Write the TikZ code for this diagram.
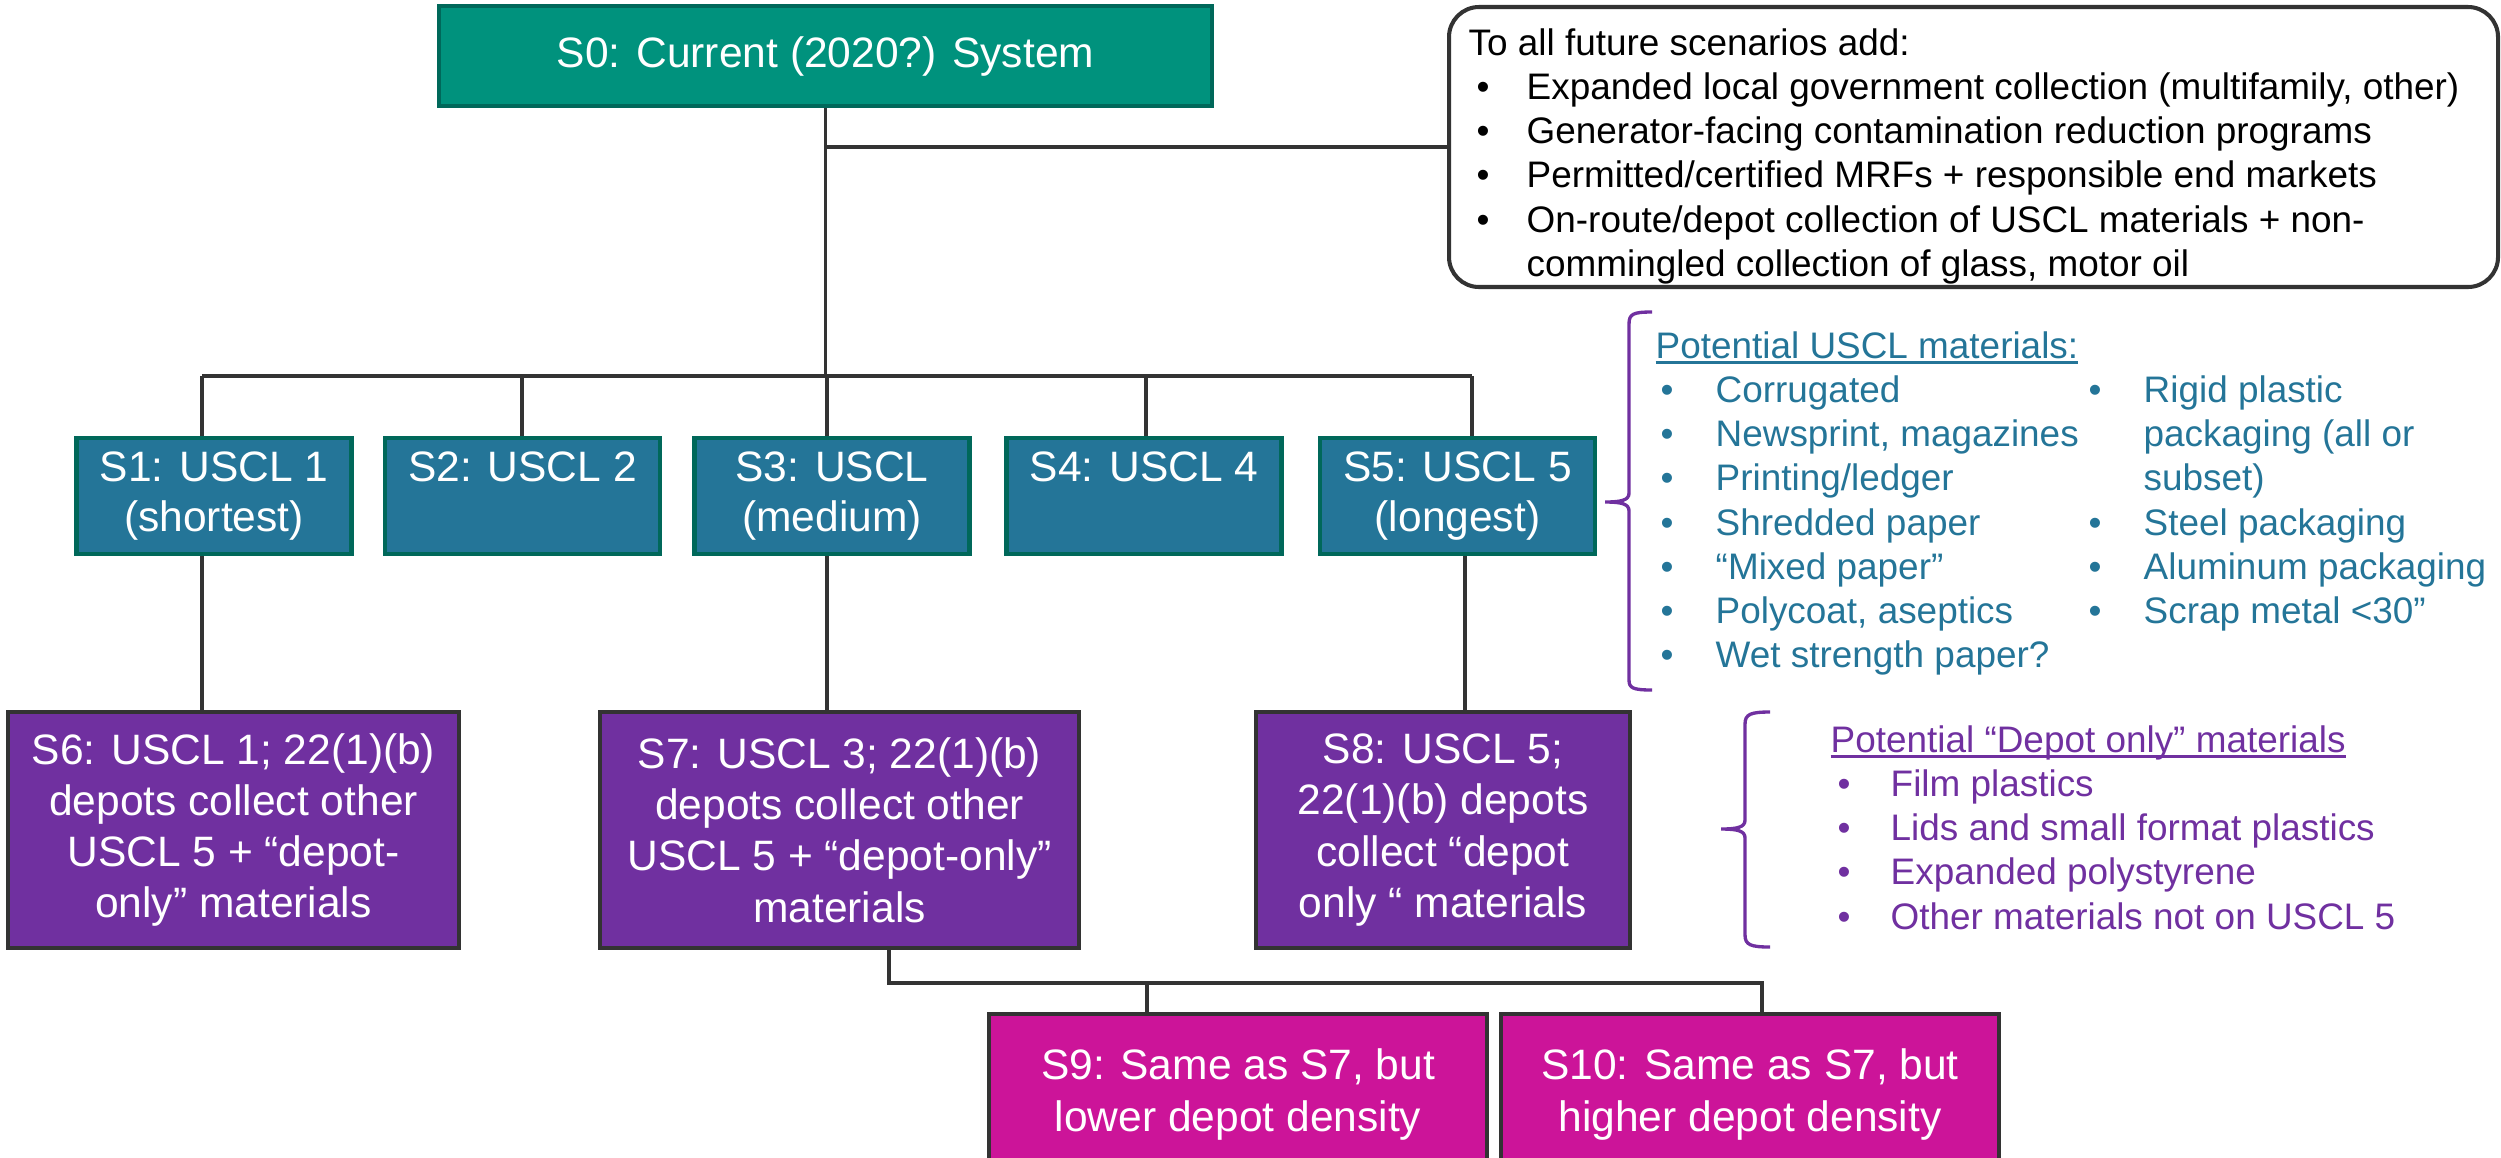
\documentclass[tikz,border=0pt]{standalone}
\usepackage{fontspec}
\setmainfont{Liberation Sans}
\usepackage{xcolor}
\usepackage{tikz}

\definecolor{sgreen}{RGB}{0,146,125}
\definecolor{sedge}{RGB}{0,104,90}
\definecolor{sblue}{RGB}{36,117,152}
\definecolor{spurple}{RGB}{112,48,160}
\definecolor{smagenta}{RGB}{204,20,153}
\definecolor{sline}{RGB}{51,51,51}

\newcommand{\ulinetext}[1]{\setbox0\hbox{#1}\rlap{\rule[-0.055cm]{\wd0}{0.022cm}}\box0}
\newcommand{\listfont}{\fontsize{10.5}{12.6}\selectfont}

\begin{document}
\begin{tikzpicture}[x=1cm,y=-1cm]
        \tikzstyle{topbox} = [draw=sedge, fill=sgreen, line width=1.4pt, minimum width=7.73cm, minimum height=1.00cm, inner sep=0pt, text=white, font={\fontsize{12.1}{14.6}\selectfont}]
        \tikzstyle{usclbox} = [draw=sedge, fill=sblue, line width=1.4pt, minimum width=2.75cm, minimum height=1.16cm, inner sep=0pt, text=white, align=center, font={\fontsize{12.1}{14.2}\selectfont}]
        \tikzstyle{depotbox} = [draw=sline, fill=spurple, line width=1.4pt, minimum height=2.36cm, inner sep=0pt, text=white, align=center, font={\fontsize{12.1}{14.6}\selectfont}]
        \tikzstyle{densitybox} = [draw=sline, fill=smagenta, line width=1.4pt, minimum width=4.98cm, minimum height=1.61cm, inner sep=0pt, text=white, align=center, font={\fontsize{12.1}{14.8}\selectfont}]
        \tikzstyle{wire} = [draw=sline, line width=1.1pt]
        \tikzstyle{bracket} = [draw=spurple, line width=0.95pt]
        \useasboundingbox (0,0) rectangle (25.01,11.57);

        % scenario boxes
        \node[topbox] (S0) at (8.255,0.56) {S0: Current (2020?) System};
        \node[usclbox] (S1) at (2.14,4.96) {S1: USCL 1\\(shortest)};
        \node[usclbox] (S2) at (5.225,4.96) {S2: USCL 2\\\vphantom{(}};
        \node[usclbox] (S3) at (8.32,4.96) {S3: USCL\\(medium)};
        \node[usclbox] (S4) at (11.44,4.96) {S4: USCL 4\\\vphantom{(}};
        \node[usclbox] (S5) at (14.575,4.96) {S5: USCL 5\\(longest)};
        \node[depotbox, minimum width=4.51cm] (S6) at (2.335,8.30) {S6: USCL 1; 22(1)(b)\\depots collect other\\USCL 5 + “depot-\\only” materials};
        \node[depotbox, minimum width=4.79cm] (S7) at (8.395,8.30) {S7: USCL 3; 22(1)(b)\\depots collect other\\USCL 5 + “depot-only”\\materials};
        \node[depotbox, minimum width=3.74cm] (S8) at (14.43,8.30) {S8: USCL 5;\\22(1)(b) depots\\collect “depot\\only “ materials};
        \node[densitybox] (S9) at (12.38,10.945) {S9: Same as S7, but\\lower depot density};
        \node[densitybox] (S10) at (17.50,10.945) {S10: Same as S7, but\\higher depot density};

        % note for all scenarios
        \node[draw=sline, line width=1.15pt, rounded corners=0.3cm, minimum width=10.49cm, minimum height=2.80cm] (note) at (19.735,1.47) {};
        \node[anchor=base west, inner sep=0pt, font=\listfont] (notetxt) at (14.68,0.55) {\begin{tabular}[t]{@{\hspace{0.08cm}}p{0.50cm}@{}l@{}}
            \multicolumn{2}{@{}l@{}}{To all future scenarios add:}\\
            \textbullet & Expanded local government collection (multifamily, other)\\
            \textbullet & Generator-facing contamination reduction programs\\
            \textbullet & Permitted/certified MRFs + responsible end markets\\
            \textbullet & On-route/depot collection of USCL materials + non-\\
                        & commingled collection of glass, motor oil
        \end{tabular}};

        % material lists
        \node[anchor=base west, inner sep=0pt, text=sblue, font=\listfont] (uscltxt) at (16.55,3.58) {\begin{tabular}[t]{@{\hspace{0.05cm}}p{0.55cm}@{}p{3.73cm}@{}p{0.55cm}@{}l@{}}
            \multicolumn{4}{@{}l@{}}{\ulinetext{Potential USCL materials:}}\\
            \textbullet & Corrugated & \textbullet & Rigid plastic\\
            \textbullet & Newsprint, magazines & & packaging (all or\\
            \textbullet & Printing/ledger & & subset)\\
            \textbullet & Shredded paper & \textbullet & Steel packaging\\
            \textbullet & “Mixed paper” & \textbullet & Aluminum packaging\\
            \textbullet & Polycoat, aseptics & \textbullet & Scrap metal <30”\\
            \textbullet & Wet strength paper? & &
        \end{tabular}};
        \node[anchor=base west, inner sep=0pt, text=spurple, font=\listfont] (depottxt) at (18.30,7.52) {\begin{tabular}[t]{@{\hspace{0.07cm}}p{0.53cm}@{}l@{}}
            \multicolumn{2}{@{}l@{}}{\ulinetext{Potential “Depot only” materials}}\\
            \textbullet & Film plastics\\
            \textbullet & Lids and small format plastics\\
            \textbullet & Expanded polystyrene\\
            \textbullet & Other materials not on USCL 5
        \end{tabular}};

        % braces
        \draw[bracket] (16.52,3.12) .. controls (16.33,3.12) and (16.29,3.14) .. (16.29,3.24) -- (16.29,4.93)
            .. controls (16.29,5.00) and (16.22,5.02) .. (16.05,5.02) .. controls (16.22,5.02) and (16.29,5.04) .. (16.29,5.11)
            -- (16.29,6.80) .. controls (16.29,6.88) and (16.33,6.90) .. (16.52,6.90);
        \draw[bracket] (17.70,7.12) .. controls (17.51,7.12) and (17.45,7.14) .. (17.45,7.24) -- (17.45,8.20)
            .. controls (17.45,8.27) and (17.38,8.29) .. (17.21,8.29) .. controls (17.38,8.29) and (17.45,8.31) .. (17.45,8.38)
            -- (17.45,9.35) .. controls (17.45,9.45) and (17.51,9.47) .. (17.70,9.47);

        % connectors
        \coordinate (busL) at (2.02,3.76);
        \coordinate (busR) at (14.72,3.76);
        \coordinate (fork) at (8.89,9.83);
        \draw[wire] (S0.south) -- (S0.south |- busL);
        \draw[wire] (S0.south |- note.west) -- (note.west);
        \draw[wire] (busL) -- (busR);
        \foreach \n/\x in {S1/2.02, S2/5.22, S3/8.27, S4/11.46, S5/14.72}
            \draw[wire] (busL -| \x,0) -- (\n.north -| \x,0);
        \foreach \from/\to/\x in {S1/S6/2.02, S3/S7/8.27, S5/S8/14.65}
            \draw[wire] (\from.south -| \x,0) -- (\to.north -| \x,0);
        \draw[wire] (S7.south -| fork) -- (fork) -- (fork -| 17.62,0) -- (S10.north -| 17.62,0);
        \draw[wire] (fork -| 11.47,0) -- (S9.north -| 11.47,0);
    \end{tikzpicture}
\end{document}
